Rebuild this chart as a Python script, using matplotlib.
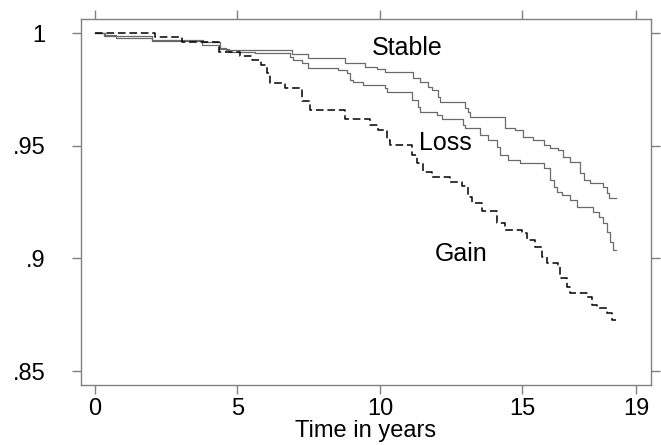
import matplotlib
matplotlib.use("Agg")
import matplotlib.pyplot as plt

plt.rcParams['font.family'] = ['Liberation Sans', 'DejaVu Sans']

# survival estimates (step changes, time in years)
stable_t = [0, 0.3, 2.0, 3.8, 4.4, 4.6, 6.9, 7.48, 8.77, 9.47, 9.88, 10.18,
            11.17, 11.41, 11.70, 11.82, 12.05, 12.11, 12.99, 13.10, 13.16,
            14.39, 14.74, 15.03, 15.38, 15.74, 15.97, 16.26, 16.44, 16.67,
            17.03, 17.15, 17.38, 17.84, 17.96, 18.02, 18.27]
stable_s = [1.0, 0.9985, 0.997, 0.996, 0.9935, 0.9925, 0.9905, 0.9888, 0.9866,
            0.9850, 0.9839, 0.9828, 0.9799, 0.9784, 0.9762, 0.9747, 0.9717,
            0.9695, 0.9666, 0.9651, 0.9629, 0.9577, 0.9570, 0.9540, 0.9525,
            0.9503, 0.9488, 0.9481, 0.9451, 0.9429, 0.9377, 0.9348, 0.9333,
            0.9318, 0.9289, 0.9266, 0.9266]

loss_t = [0, 0.34, 0.75, 2.0, 3.74, 4.35, 4.7, 5.6, 6.84, 6.96, 7.25, 7.48,
          8.54, 8.83, 8.95, 9.06, 9.41, 10.18, 10.24, 11.11, 11.35, 11.41,
          11.99, 12.17, 12.93, 12.99, 13.51, 13.80, 14.10, 14.22, 14.51,
          14.92, 15.74, 15.97, 16.09, 16.21, 16.38, 16.67, 16.91, 17.49,
          17.67, 17.84, 17.96, 18.08, 18.19, 18.29]
loss_s = [1.0, 0.999, 0.998, 0.9965, 0.9945, 0.993, 0.9918, 0.991, 0.9895,
          0.988, 0.9866, 0.9843, 0.9836, 0.9821, 0.9791, 0.9784, 0.9769,
          0.9755, 0.9740, 0.9703, 0.9673, 0.9651, 0.9636, 0.9617, 0.9592,
          0.9577, 0.9547, 0.9525, 0.9496, 0.9459, 0.9436, 0.9422, 0.9400,
          0.9348, 0.9318, 0.9296, 0.9281, 0.9259, 0.9229, 0.9207, 0.9185,
          0.9155, 0.9118, 0.9074, 0.9037, 0.9037]

gain_t = [0, 2.1, 3.07, 4.35, 4.6, 5.08, 5.5, 5.84, 6.02, 6.14, 6.66, 7.25,
          7.54, 8.77, 9.65, 9.93, 10.24, 10.35, 11.11, 11.29, 11.51, 11.82,
          12.46, 12.87, 13.10, 13.22, 13.57, 14.10, 14.39, 14.98, 15.15,
          15.44, 15.68, 15.86, 16.26, 16.32, 16.56, 16.67, 17.26, 17.44,
          17.61, 17.96, 18.14, 18.29]
gain_s = [1.0, 0.9984, 0.9961, 0.9917, 0.9914, 0.990, 0.988, 0.9858, 0.9822,
          0.978, 0.9755, 0.970, 0.9658, 0.9617, 0.959, 0.9571, 0.9525, 0.9503,
          0.9459, 0.9423, 0.9385, 0.936, 0.934, 0.932, 0.9274, 0.9244, 0.921,
          0.9155, 0.9126, 0.9111, 0.9081, 0.9052, 0.9007, 0.8978, 0.897,
          0.8911, 0.8874, 0.8848, 0.883, 0.8793, 0.8778, 0.8756, 0.8726, 0.8726]

x_ticks = [0, 5, 10, 15, 19]
y_ticks = [0.85, 0.9, 0.95, 1.0]
y_labels = ['.85', '.9', '.95', '1']

frame = '#808080'

fig = plt.figure(figsize=(6.61, 4.45), dpi=100)
ax = fig.add_axes([0.1221, 0.1348, 0.8623, 0.8218])

ax.step(stable_t, stable_s, where='post', color='#6a6a6a', lw=0.9)
ax.step(loss_t, loss_s, where='post', color='#6a6a6a', lw=0.9)
ax.step(gain_t, gain_s, where='post', color='black', lw=1.1,
        linestyle=(0, (5, 2.5)))

ax.text(10.95, 0.9933, 'Stable', fontsize=18, ha='center', va='center')
ax.text(12.3, 0.9510, 'Loss', fontsize=18, ha='center', va='center')
ax.text(12.85, 0.9019, 'Gain', fontsize=18, ha='center', va='center')

ax.set_xlim(-0.5, 19.5)
ax.set_ylim(0.8438, 1.0061)
ax.set_xticks(x_ticks)
ax.set_yticks(y_ticks)
ax.set_yticklabels(y_labels)

for s in ax.spines.values():
    s.set_color(frame)
    s.set_linewidth(1.0)

ax.tick_params(axis='both', which='both', direction='out', length=6.8,
               width=1.0, color=frame, labelsize=17, top=True, right=True)
ax.tick_params(axis='x', pad=2.5)
ax.tick_params(axis='y', pad=18.5)

ax.set_xlabel('Time in years', fontsize=17, labelpad=0)

fig.savefig('out.png', dpi=100)
